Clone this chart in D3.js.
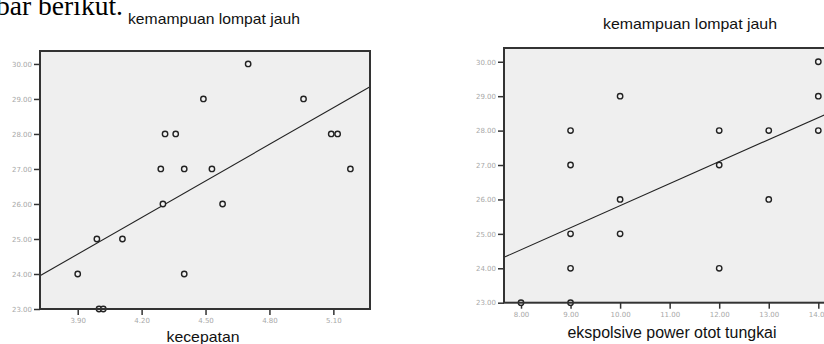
<!DOCTYPE html>
<html><head><meta charset="utf-8">
<script src="https://cdn.jsdelivr.net/npm/d3@7"></script>
<style>
html,body{margin:0;padding:0;background:#fff;overflow:hidden}
svg{display:block}
</style></head>
<body>
<svg id="c" width="824" height="344"></svg>
<script>
// ---- data ----
const speedX = [3.90, 3.99, 4.00, 4.02, 4.11, 4.30, 4.31, 4.36, 4.29, 4.40, 4.40, 4.49, 4.53, 4.58, 4.70, 4.96, 5.09, 5.12, 5.18];
const speedY = [24, 25, 23, 23, 25, 26, 28, 28, 27, 27, 24, 29, 27, 26, 30, 29, 28, 28, 27];
const powerX = [8, 9, 9, 9, 9, 9, 10, 10, 10, 12, 12, 12, 13, 13, 14, 14, 14];
const powerY = [23, 23, 24, 25, 27, 28, 25, 26, 29, 24, 27, 28, 26, 28, 28, 29, 30];
const speedFit = [[3.723, 23.95], [5.272, 29.35]];
const powerFit = [[7.657, 24.32], [14.236, 28.53]];
const yTicks = [23, 24, 25, 26, 27, 28, 29, 30];
const speedTicks = [3.90, 4.20, 4.50, 4.80, 5.10];
const powerTicks = [8, 9, 10, 11, 12, 13, 14];
const titleText = "kemampuan lompat jauh";
const speedLabel = "kecepatan";
const powerLabel = "ekspolsive power otot tungkai";
const docText = "bar berikut.";

const svg = d3.select("#c");
const fmt = d3.format(".2f");

// document fragment text (clipped at the top, as in the source)
svg.append("text").attr("x", -4).attr("y", 15)
  .attr("font-family", "Liberation Serif, Times New Roman, serif")
  .attr("font-size", 28).attr("textLength", 127).attr("lengthAdjust", "spacingAndGlyphs")
  .attr("fill", "#000").text(docText);

function panel(cfg) {
  const g = svg.append("g");
  const x = d3.scaleLinear().domain(cfg.xDom).range([cfg.left, cfg.right]);
  const y = d3.scaleLinear().domain(cfg.yDom).range([cfg.bottom, cfg.top]);
  g.append("rect").attr("x", cfg.left).attr("y", cfg.top)
    .attr("width", cfg.right - cfg.left).attr("height", cfg.bottom - cfg.top)
    .attr("fill", "#efefef");
  // axes
  const ya = g.append("g").attr("transform", `translate(${cfg.left},0)`)
    .call(d3.axisLeft(y).tickValues(yTicks).tickSize(6).tickPadding(2).tickFormat(fmt));
  const xa = g.append("g").attr("transform", `translate(0,${cfg.bottom})`)
    .call(d3.axisBottom(x).tickValues(cfg.xTicks).tickSize(6).tickPadding(3).tickFormat(fmt));
  [ya, xa].forEach(a => {
    a.select(".domain").remove();
    a.selectAll(".tick line").attr("stroke", "#333").attr("stroke-width", 1.5);
    a.selectAll(".tick text").attr("fill", "#a8a8a8")
      .attr("font-family", "DejaVu Sans, sans-serif").attr("font-size", 7);
  });
  // fit line
  g.append("line")
    .attr("x1", x(cfg.fit[0][0])).attr("y1", y(cfg.fit[0][1]))
    .attr("x2", x(cfg.fit[1][0])).attr("y2", y(cfg.fit[1][1]))
    .attr("stroke", "#222").attr("stroke-width", 1.1);
  // points
  g.selectAll("circle.pt").data(cfg.xs.map((v, i) => [v, cfg.ys[i]]))
    .enter().append("circle").attr("class", "pt")
    .attr("cx", d => x(d[0])).attr("cy", d => y(d[1])).attr("r", 2.7)
    .attr("fill", "#f4f4f4").attr("stroke", "#222").attr("stroke-width", 1.4);
  // frame
  g.append("rect").attr("x", cfg.left).attr("y", cfg.top)
    .attr("width", cfg.right - cfg.left).attr("height", cfg.bottom - cfg.top)
    .attr("fill", "none").attr("stroke", "#333").attr("stroke-width", 2);
  // titles
  g.append("text").attr("x", cfg.titleX).attr("y", cfg.titleY)
    .attr("text-anchor", "middle").attr("font-family", "Liberation Sans, Arial, sans-serif")
    .attr("font-size", 15).attr("textLength", cfg.titleW).attr("lengthAdjust", "spacingAndGlyphs")
    .attr("fill", "#111").text(titleText);
  g.append("text").attr("x", cfg.labX).attr("y", cfg.labY)
    .attr("text-anchor", "middle").attr("font-family", "Liberation Sans, Arial, sans-serif")
    .attr("font-size", cfg.labSize).attr("textLength", cfg.labW).attr("lengthAdjust", "spacingAndGlyphs")
    .attr("fill", "#111").text(cfg.label);
}

panel({
  left: 40, right: 370, top: 51, bottom: 309,
  xDom: [3.723, 5.272], yDom: [23, 30.37],
  xTicks: speedTicks, xs: speedX, ys: speedY, fit: speedFit,
  titleX: 214, titleY: 24, titleW: 172,
  label: speedLabel, labX: 203, labY: 342, labW: 73, labSize: 15
});
panel({
  left: 504, right: 830, top: 48, bottom: 302.7,
  xDom: [7.657, 14.236], yDom: [23, 30.40],
  xTicks: powerTicks, xs: powerX, ys: powerY, fit: powerFit,
  titleX: 690, titleY: 29, titleW: 174,
  label: powerLabel, labX: 672, labY: 338, labW: 209, labSize: 16
});
</script>
</body></html>
